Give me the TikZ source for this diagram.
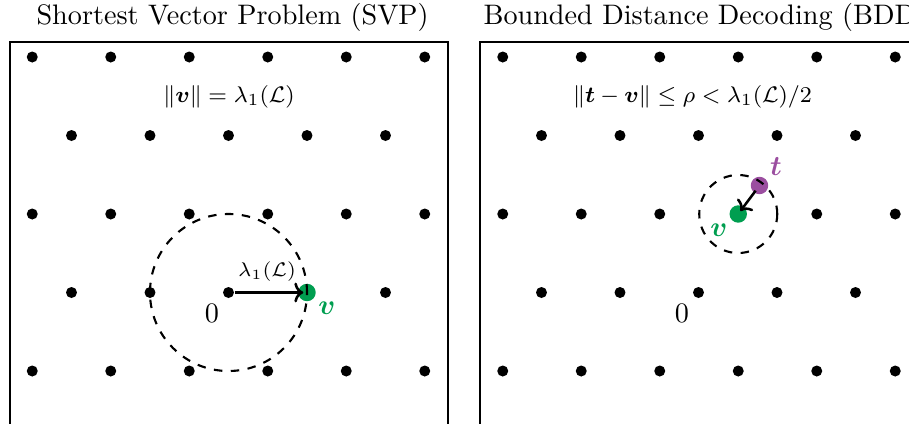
\documentclass[tikz,border=0pt]{standalone}
\usepackage{amsmath,amssymb,bm}
\usetikzlibrary{arrows.meta}
\definecolor{vgreen}{RGB}{0,158,80}
\definecolor{tpurple}{RGB}{155,78,160}
\begin{document}
\begin{tikzpicture}[x=0.3546pt,y=-0.3546pt,
  dot/.style={circle,fill=black,inner sep=0pt,minimum size=3.9pt},
  bigdot/.style={circle,inner sep=0pt,minimum size=6.2pt},
  frame/.style={draw=black,line width=0.45pt},
  ring/.style={draw=black,dashed,line width=0.75pt},
  vec/.style={draw=black,line width=0.9pt,-{To[length=3.2pt,width=7pt]}},
  titletext/.style={inner sep=0pt,font=\normalsize},
  formula/.style={inner sep=0pt,font=\footnotesize},
  lab/.style={inner sep=0pt}]
\clip (0,0) rectangle (909,424);
% titles
\node[titletext,anchor=west] (tL) at (36,17) {Shortest Vector Problem (SVP)};
\node[titletext,anchor=west] (tR) at (483,17) {Bounded Distance Decoding (BDD)};
% frames
\draw[frame] (10,42) rectangle (448,450);
\draw[frame] (480,42) rectangle (950,450);
% ---------- left lattice ----------
\foreach \y [count=\j] in {57,214,371}
  \foreach \x [count=\i] in {32.25,110.75,189.25,267.75,346.25,424.75}
    \node[dot] (La\i-\j) at (\x,\y) {};
\foreach \x [count=\i] in {71.5,150,228.5,307,385.5}
  \node[dot] (Lb\i-1) at (\x,135.5) {};
\foreach \x [count=\i] in {71.5,150,385.5}
  \node[dot] (Lb\i-2) at (\x,292.5) {};
\node[dot] (OL) at (228.5,292.5) {};
\node[bigdot,fill=vgreen] (vL) at (307,292.5) {};
\draw[ring] (OL.center) circle[radius=27.84pt];
\draw[vec, shorten >=-2pt] (OL) -- (vL);
\node[lab,font=\scriptsize] (lamL) at (267,272) {$\lambda_1(\mathcal{L})$};
\node[lab] (zL) at (212,313) {$0$};
\node[lab,text=vgreen] (vLl) at (327,308) {$\bm{v}$};
\node[formula] (fL) at (229,97) {$\|\bm{v}\| = \lambda_1(\mathcal{L})$};
% ---------- right lattice ----------
\foreach \y [count=\j] in {57,371}
  \foreach \x [count=\i] in {502.75,581.25,659.75,738.25,816.75,895.25}
    \node[dot] (Ra\i-\j) at (\x,\y) {};
\foreach \x [count=\i] in {502.75,581.25,659.75,816.75,895.25}
  \node[dot] (Rc\i) at (\x,214) {};
\foreach \y [count=\j] in {135.5,292.5}
  \foreach \x [count=\i] in {541.5,620,698.5,777,855.5}
    \node[dot] (Rb\i-\j) at (\x,\y) {};
\node[bigdot,fill=vgreen] (vR) at (738.25,214) {};
\node[bigdot,fill=tpurple] (tR) at (759.5,185.5) {};
\draw[ring] (vR.center) circle[radius=13.83pt];
\draw[vec, shorten >=-2pt, shorten <=-1pt] (tR) -- (vR);
\node[lab] (zR) at (682,313) {$0$};
\node[lab,text=vgreen] (vRl) at (719,230) {$\bm{v}$};
\node[lab,text=tpurple] (tRl) at (776,167) {$\bm{t}$};
\node[formula] (fR) at (692.5,97) {$\|\bm{t}-\bm{v}\| \le \rho < \lambda_1(\mathcal{L})/2$};
\end{tikzpicture}
\end{document}
